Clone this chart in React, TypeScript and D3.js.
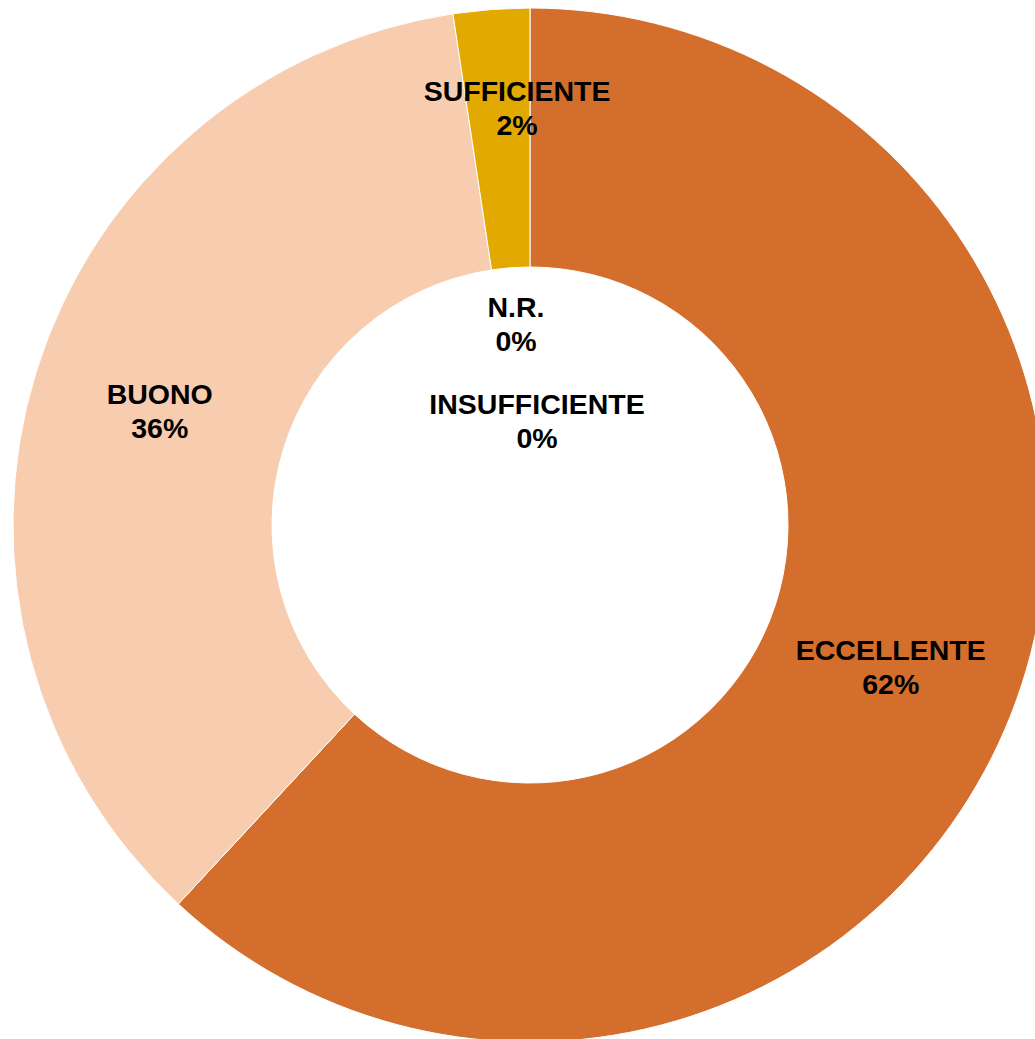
import React from "react";
import * as d3 from "d3";

const categories = ["ECCELLENTE", "BUONO", "SUFFICIENTE", "INSUFFICIENTE", "N.R."];
const counts = [26, 15, 1, 0, 0];
const colors = ["#D46E2C", "#F7CCAF", "#E2A900", "#A0522D", "#999999"];
// label nudges (px) applied to the arc centroid, like the original's collision-resolved labels
const labelNudgeX = [0, 0, 16, 7, -14];
const labelNudgeY = [0, 0, -31, 283, 186];

const W = 1035;
const H = 1039;
const CX = 530;
const CY = 525;
const R_OUT = 517;
const R_IN = 258;

export default function App() {
  const total = d3.sum(counts);
  const pie = d3
    .pie<number>()
    .sort(null)
    .value((d) => d);
  const arcs = pie(counts);
  const arc = d3.arc<d3.PieArcDatum<number>>().innerRadius(R_IN).outerRadius(R_OUT);
  const fmt = (v: number) => `${Math.round((v / total) * 100)}%`;

  return (
    <svg
      width={W}
      height={H}
      style={{ position: "absolute", left: 0, top: 0, background: "#fff" }}
      fontFamily="'Liberation Sans', Arial, sans-serif"
    >
      <g transform={`translate(${CX},${CY})`}>
        {arcs.map((a, i) =>
          a.endAngle - a.startAngle > 0 ? (
            <path key={i} d={arc(a) || ""} fill={colors[i]} stroke="#fff" strokeWidth={1} />
          ) : null
        )}
        {arcs.map((a, i) => {
          const [x, y] = arc.centroid(a);
          const lx = x + labelNudgeX[i];
          const ly = y + labelNudgeY[i];
          return (
            <text
              key={"t" + i}
              x={lx}
              y={ly - 7}
              textAnchor="middle"
              fontSize={28.5}
              fontWeight="bold"
              fill="#000"
            >
              <tspan x={lx}>{categories[i]}</tspan>
              <tspan x={lx} dy={34}>
                {fmt(counts[i])}
              </tspan>
            </text>
          );
        })}
      </g>
    </svg>
  );
}
